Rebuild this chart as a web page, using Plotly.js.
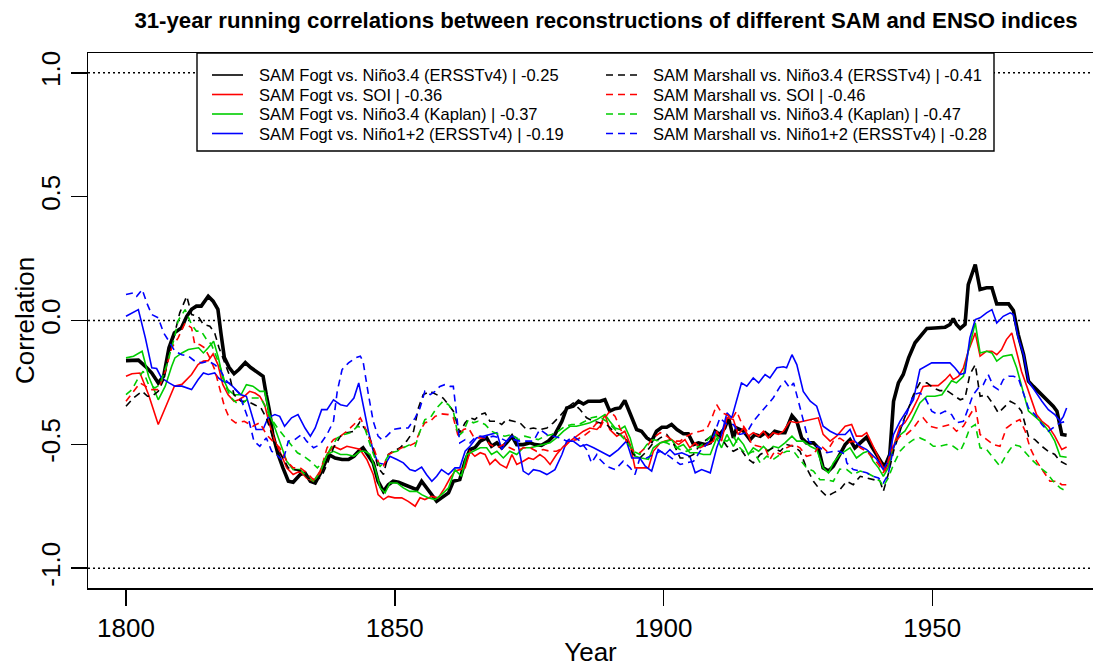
<!DOCTYPE html>
<html>
<head>
<meta charset="utf-8">
<script src="https://cdn.plot.ly/plotly-3.0.1.min.js"></script>
<style>html,body{margin:0;padding:0;background:#fff;}#chart{width:1093px;height:667px;}</style>
</head>
<body>
<div id="chart"></div>
<script>
// ---- Data: [year, 31-year running correlation] ----
const fogtNino34Ersst = [[1800,-0.162],[1802.3,-0.16],[1803.6,-0.185],[1804.8,-0.212],[1806,-0.252],[1807,-0.225],[1808,-0.11],[1809,-0.05],[1810.3,-0.03],[1811.3,0.017],[1812.2,0.045],[1813.1,0.058],[1814,0.058],[1815.3,0.098],[1816.2,0.078],[1817.1,0.045],[1817.7,-0.057],[1818.3,-0.15],[1819.2,-0.19],[1820.1,-0.215],[1821,-0.198],[1822.2,-0.17],[1823.2,-0.19],[1824.5,-0.212],[1825.5,-0.225],[1826.1,-0.3],[1826.7,-0.366],[1827.3,-0.46],[1828.3,-0.541],[1829.2,-0.595],[1830.2,-0.649],[1831.1,-0.653],[1832.4,-0.622],[1833.3,-0.615],[1834.3,-0.649],[1835.2,-0.656],[1836.4,-0.608],[1837.7,-0.541],[1838.9,-0.555],[1840.2,-0.561],[1841.4,-0.561],[1842.4,-0.548],[1843.3,-0.527],
[1844.1,-0.514],[1845.1,-0.548],[1846,-0.575],[1846.9,-0.649],[1847.9,-0.69],[1848.8,-0.663],[1849.7,-0.649],[1850.7,-0.653],[1851.9,-0.663],[1853.1,-0.676],[1854.1,-0.683],[1855,-0.649],[1855.9,-0.676],[1856.9,-0.703],[1857.8,-0.73],[1858.7,-0.716],[1860,-0.696],[1860.9,-0.649],[1862.1,-0.642],[1863.1,-0.568],[1864,-0.521],[1864.9,-0.514],[1865.9,-0.487],[1867.1,-0.474],[1868,-0.508],[1869,-0.494],[1869.9,-0.514],[1870.8,-0.494],[1871.8,-0.467],[1872.7,-0.501],[1873.9,-0.501],[1875.2,-0.494],[1876.1,-0.501],[1877.3,-0.504],[1878.6,-0.487],[1879.8,-0.46],[1881.1,-0.407],[1882,-0.353],[1883.2,-0.346],[1884.2,-0.326],[1885.1,-0.337],[1886,-0.326],[1887.3,-0.326],[1888.2,-0.326],[1889.1,-0.32],
[1890,-0.366],[1891,-0.356],[1891.9,-0.353],[1892.8,-0.323],[1893.8,-0.38],[1895,-0.44],[1895.9,-0.447],[1896.9,-0.474],[1897.8,-0.487],[1898.7,-0.447],[1899.7,-0.431],[1900.6,-0.431],[1901.5,-0.42],[1902.5,-0.44],[1903.7,-0.457],[1904.6,-0.457],[1905.6,-0.501],[1906.5,-0.494],[1907.7,-0.501],[1908.7,-0.494],[1909.6,-0.447],[1910.5,-0.46],[1911.4,-0.434],[1912.1,-0.393],[1913,-0.474],[1913.6,-0.434],[1914.9,-0.447],[1916.1,-0.481],[1917,-0.46],[1918,-0.467],[1918.9,-0.453],[1919.8,-0.467],[1920.7,-0.447],[1921.7,-0.453],[1922.6,-0.453],[1923.9,-0.384],[1924.8,-0.407],[1925.7,-0.474],[1926.6,-0.494],[1927.9,-0.494],[1928.8,-0.514],[1929.7,-0.595],[1930.7,-0.608],[1931.6,-0.588],[1932.8,-0.541],
[1933.8,-0.501],[1934.7,-0.481],[1935.6,-0.514],[1936.6,-0.494],[1937.8,-0.471],[1938.7,-0.508],[1939.7,-0.541],[1940.6,-0.575],[1941.2,-0.588],[1942.1,-0.541],[1942.8,-0.326],[1943.7,-0.252],[1944.6,-0.218],[1945.6,-0.151],[1946.8,-0.09],[1948,-0.057],[1949,-0.032],[1950.5,-0.03],[1952.4,-0.027],[1953.3,-0.016],[1953.9,0.008],[1954.5,-0.016],[1955.2,-0.032],[1956.1,-0.016],[1956.7,0.145],[1958,0.226],[1958.9,0.125],[1960.1,0.132],[1961.1,0.132],[1962,0.067],[1963.2,0.067],[1964.2,0.067],[1965.1,0.04],[1966,-0.057],[1967,-0.138],[1967.9,-0.245],[1968.8,-0.266],[1970.1,-0.293],[1971.3,-0.32],[1972.5,-0.346],[1973.2,-0.366],[1974.1,-0.46],[1975,-0.463]];

const fogtSoi = [[1800,-0.225],[1801.1,-0.215],[1802.6,-0.212],[1804.2,-0.3],[1806,-0.42],[1807.3,-0.353],[1809,-0.265],[1810.4,-0.258],[1812.2,-0.218],[1813.4,-0.178],[1814.4,-0.164],[1815.3,-0.162],[1816.2,-0.135],[1817.1,-0.178],[1818,-0.258],[1819,-0.3],[1820.1,-0.326],[1821,-0.32],[1822,-0.306],[1823,-0.286],[1824,-0.293],[1824.9,-0.306],[1825.8,-0.34],[1826.7,-0.42],[1827.7,-0.487],[1828.6,-0.528],[1829.9,-0.595],[1831.1,-0.622],[1832.4,-0.608],[1833.6,-0.636],[1834.9,-0.649],[1836.1,-0.608],[1837.4,-0.541],[1838.6,-0.508],[1839.9,-0.521],[1841.1,-0.508],[1842.4,-0.514],[1843.5,-0.52],
[1844.8,-0.561],[1846,-0.622],[1846.9,-0.703],[1847.9,-0.723],[1848.8,-0.71],[1850,-0.716],[1851.3,-0.716],[1852.5,-0.73],[1853.8,-0.75],[1854.7,-0.716],[1855.6,-0.723],[1856.9,-0.71],[1858.1,-0.716],[1859.3,-0.676],[1860.3,-0.636],[1861.2,-0.608],[1862.1,-0.602],[1863.1,-0.595],[1864,-0.528],[1864.9,-0.548],[1865.9,-0.534],[1866.8,-0.541],[1867.7,-0.581],[1868.7,-0.561],[1869.6,-0.581],[1870.8,-0.595],[1871.8,-0.541],[1872.7,-0.581],[1873.9,-0.568],[1874.9,-0.555],[1875.8,-0.561],[1877,-0.541],[1877.9,-0.555],[1878.9,-0.581],[1880.1,-0.541],[1881.4,-0.508],[1882.6,-0.487],[1883.8,-0.467],[1885.1,-0.447],[1886.3,-0.434],[1887.6,-0.44],[1888.2,-0.427],
[1889.1,-0.38],[1890,-0.44],[1891.3,-0.467],[1892.8,-0.447],[1893.8,-0.501],[1894.7,-0.595],[1895.9,-0.595],[1897.2,-0.595],[1898.1,-0.528],[1899.4,-0.494],[1900.3,-0.487],[1901.5,-0.481],[1902.8,-0.501],[1904,-0.481],[1904.9,-0.514],[1905.9,-0.494],[1906.8,-0.514],[1908,-0.501],[1909.3,-0.487],[1909.9,-0.447],[1910.8,-0.487],[1911.8,-0.393],[1913,-0.4],[1913.9,-0.46],[1914.9,-0.434],[1915.8,-0.467],[1916.7,-0.453],[1917.7,-0.467],[1918.6,-0.447],[1919.5,-0.474],[1920.4,-0.453],[1921.4,-0.46],[1922.3,-0.447],[1923.5,-0.407],[1924.8,-0.413],[1926,-0.407],[1927.3,-0.4],[1928.8,-0.393],[1929.7,-0.46],[1931,-0.487],[1932.2,-0.467],
[1933.8,-0.427],[1935,-0.42],[1935.9,-0.467],[1936.9,-0.467],[1937.8,-0.453],[1938.7,-0.494],[1939.7,-0.541],[1940.6,-0.581],[1941.2,-0.608],[1942.1,-0.568],[1943.1,-0.487],[1944,-0.427],[1944.9,-0.413],[1946.2,-0.366],[1947.4,-0.313],[1948.3,-0.266],[1949.6,-0.263],[1951.1,-0.263],[1952.4,-0.239],[1953.3,-0.218],[1953.9,-0.239],[1954.9,-0.225],[1955.8,-0.191],[1956.7,-0.124],[1958,-0.05],[1958.9,-0.144],[1960.1,-0.124],[1961.1,-0.124],[1962,-0.138],[1962.9,-0.117],[1963.8,-0.077],[1964.8,-0.05],[1965.7,-0.124],[1966.6,-0.205],[1967.6,-0.266],[1968.5,-0.326],[1969.4,-0.38],[1970.4,-0.407],[1971.6,-0.427],[1972.8,-0.467],[1974.1,-0.521],[1975,-0.511]];

const fogtNino34Kaplan = [[1800,-0.151],[1801.4,-0.144],[1803,-0.124],[1804.2,-0.225],[1806,-0.32],[1807.3,-0.265],[1808.5,-0.185],[1809.1,-0.151],[1810.4,-0.131],[1811.6,-0.117],[1813.5,-0.11],[1814.4,-0.131],[1815.3,-0.11],[1816.3,-0.084],[1817.2,-0.151],[1818,-0.232],[1819,-0.279],[1820.1,-0.3],[1821.4,-0.3],[1822.4,-0.259],[1823.6,-0.265],[1824.9,-0.286],[1825.8,-0.286],[1826.7,-0.38],[1827.7,-0.434],[1828.9,-0.508],[1829.9,-0.568],[1831.1,-0.602],[1832.4,-0.602],[1833.6,-0.629],[1834.9,-0.649],[1836.1,-0.615],[1837.4,-0.541],[1838.6,-0.528],[1839.9,-0.541],[1841.1,-0.541],[1842.4,-0.548],[1843.6,-0.528],
[1844.5,-0.528],[1845.4,-0.541],[1846.3,-0.595],[1847.3,-0.676],[1848.2,-0.696],[1849.1,-0.656],[1850.4,-0.656],[1851.6,-0.676],[1852.8,-0.69],[1854.1,-0.69],[1855,-0.703],[1856.2,-0.716],[1857.5,-0.723],[1858.7,-0.703],[1860,-0.676],[1861.2,-0.602],[1862.4,-0.629],[1863.4,-0.541],[1864.6,-0.528],[1865.9,-0.514],[1867.1,-0.514],[1868,-0.541],[1869,-0.528],[1870.2,-0.555],[1871.4,-0.528],[1872.7,-0.541],[1873.9,-0.514],[1875.2,-0.514],[1876.4,-0.508],[1877.6,-0.501],[1878.9,-0.494],[1880.1,-0.474],[1881.4,-0.447],[1882.6,-0.427],[1883.8,-0.427],[1885.1,-0.42],[1886.3,-0.413],[1887.6,-0.4],
[1889.1,-0.38],[1890,-0.407],[1891,-0.434],[1891.9,-0.44],[1892.8,-0.427],[1893.8,-0.474],[1894.7,-0.548],[1895.9,-0.555],[1897.2,-0.561],[1898.1,-0.514],[1899.4,-0.494],[1900.6,-0.487],[1901.5,-0.481],[1902.5,-0.514],[1903.7,-0.501],[1904.9,-0.534],[1906.2,-0.534],[1907.4,-0.541],[1908.7,-0.541],[1909.9,-0.474],[1910.8,-0.514],[1911.8,-0.46],[1913,-0.508],[1913.9,-0.474],[1914.9,-0.501],[1915.8,-0.541],[1916.7,-0.514],[1917.7,-0.528],[1918.6,-0.508],[1919.5,-0.528],[1920.4,-0.508],[1921.4,-0.514],[1922.6,-0.494],[1923.9,-0.467],[1924.8,-0.487],[1926,-0.487],[1927.3,-0.508],[1928.5,-0.521],[1929.7,-0.595],[1930.7,-0.615],[1931.6,-0.575],[1932.8,-0.541],
[1933.8,-0.528],[1934.7,-0.514],[1935.9,-0.555],[1937.2,-0.534],[1938.1,-0.528],[1939,-0.568],[1940,-0.595],[1940.9,-0.629],[1941.8,-0.595],[1942.8,-0.514],[1943.7,-0.467],[1944.9,-0.447],[1946.2,-0.4],[1947.7,-0.333],[1949,-0.306],[1950.5,-0.306],[1951.8,-0.3],[1952.7,-0.272],[1953.6,-0.243],[1954.5,-0.252],[1955.8,-0.225],[1956.7,-0.124],[1958,-0.01],[1958.9,-0.131],[1960.1,-0.124],[1961.1,-0.131],[1962,-0.164],[1963.2,-0.144],[1964.8,-0.138],[1965.7,-0.191],[1966.6,-0.259],[1967.9,-0.366],[1969.4,-0.393],[1970.7,-0.42],[1971.9,-0.453],[1972.8,-0.487],[1973.8,-0.548],[1975,-0.552]];

const fogtNino12Ersst = [[1800,0.017],[1801.1,0.031],[1802.3,0.044],[1803.6,-0.07],[1804.8,-0.191],[1805.7,-0.194],[1806.6,-0.232],[1808,-0.252],[1809.1,-0.265],[1810.4,-0.265],[1812.2,-0.279],[1813.4,-0.239],[1814.4,-0.212],[1815.3,-0.218],[1816.5,-0.212],[1817.2,-0.232],[1818,-0.245],[1819.2,-0.252],[1820.1,-0.272],[1821.4,-0.3],[1822.4,-0.306],[1823.2,-0.366],[1824.2,-0.44],[1825.5,-0.44],[1826.4,-0.393],[1827.7,-0.38],[1828.6,-0.387],[1829.5,-0.427],[1830.8,-0.393],[1832,-0.38],[1833.3,-0.434],[1834.3,-0.467],[1835.2,-0.434],[1836.4,-0.36],[1837.4,-0.36],[1838.6,-0.32],[1839.9,-0.34],[1841.1,-0.346],[1842.4,-0.313],[1843.3,-0.252],[1844.1,-0.34],
[1845.1,-0.447],[1846,-0.528],[1846.9,-0.575],[1848.2,-0.581],[1849.1,-0.548],[1850.4,-0.561],[1851.6,-0.575],[1852.8,-0.602],[1853.8,-0.608],[1855,-0.592],[1855.9,-0.622],[1856.9,-0.649],[1857.8,-0.629],[1858.7,-0.602],[1860,-0.622],[1861.2,-0.595],[1862.1,-0.595],[1863.1,-0.528],[1864,-0.508],[1865.2,-0.474],[1866.5,-0.467],[1867.7,-0.46],[1869,-0.453],[1869.9,-0.521],[1870.8,-0.487],[1871.8,-0.467],[1872.7,-0.474],[1873.3,-0.541],[1873.9,-0.608],[1874.9,-0.622],[1875.8,-0.602],[1877,-0.608],[1878.3,-0.622],[1879.8,-0.602],[1881.1,-0.541],[1882,-0.487],[1883.2,-0.487],[1884.5,-0.508],[1885.7,-0.501],[1887,-0.514],[1888.2,-0.528],
[1890,-0.548],[1891.6,-0.521],[1893.1,-0.487],[1894.1,-0.555],[1895.6,-0.555],[1896.6,-0.588],[1897.8,-0.608],[1899,-0.521],[1900.3,-0.541],[1901.2,-0.521],[1902.1,-0.541],[1903.4,-0.534],[1904.9,-0.548],[1905.9,-0.615],[1907.1,-0.602],[1908.7,-0.615],[1909.9,-0.514],[1910.8,-0.46],[1911.8,-0.373],[1912.7,-0.393],[1913.6,-0.326],[1914.5,-0.252],[1915.5,-0.265],[1916.7,-0.232],[1917.7,-0.252],[1918.9,-0.218],[1919.8,-0.232],[1921.1,-0.191],[1922.3,-0.187],[1922.9,-0.191],[1923.9,-0.138],[1924.8,-0.178],[1926,-0.286],[1927.3,-0.326],[1928.5,-0.346],[1929.7,-0.427],[1931,-0.447],[1932.2,-0.46],[1933.8,-0.46],
[1934.7,-0.44],[1935.6,-0.487],[1936.6,-0.508],[1937.8,-0.521],[1938.7,-0.541],[1939.7,-0.561],[1940.9,-0.602],[1941.8,-0.568],[1942.8,-0.46],[1944,-0.407],[1945.2,-0.366],[1946.5,-0.32],[1947.7,-0.198],[1948.7,-0.185],[1949.9,-0.171],[1951.1,-0.171],[1952.4,-0.171],[1953.3,-0.171],[1954.2,-0.191],[1955.2,-0.218],[1956.1,-0.212],[1957,-0.07],[1958,0.004],[1958.9,0.011],[1960.1,0.031],[1961.1,0.044],[1962,-0.01],[1963.2,0.017],[1964.5,0.031],[1965.1,0.024],[1966,-0.07],[1967,-0.138],[1967.9,-0.245],[1969.1,-0.286],[1970.4,-0.326],[1971.6,-0.36],[1972.8,-0.38],[1973.8,-0.407],[1974.4,-0.387],[1975,-0.353]];

const marshallNino34Ersst = [[1800,-0.346],[1801.4,-0.313],[1803,-0.286],[1804,-0.306],[1804.8,-0.306],[1806,-0.286],[1807,-0.239],[1808,-0.138],[1809,-0.057],[1810,0.031],[1811.3,0.098],[1812.2,0.024],[1813.4,0.017],[1814.4,-0.016],[1815.6,-0.023],[1816.5,-0.05],[1817.3,-0.11],[1818.3,-0.171],[1819.2,-0.218],[1820.1,-0.3],[1821.4,-0.326],[1822.6,-0.326],[1823.8,-0.34],[1825.1,-0.353],[1826.1,-0.393],[1827.1,-0.46],[1828,-0.514],[1829.2,-0.555],[1830.2,-0.595],[1831.4,-0.602],[1832.7,-0.608],[1833.9,-0.636],[1835.2,-0.649],[1836.4,-0.629],[1837.4,-0.581],[1838.6,-0.514],[1839.9,-0.467],[1841.1,-0.453],[1842.4,-0.447],[1843.5,-0.41],
[1844.8,-0.447],[1846,-0.514],[1846.9,-0.595],[1847.9,-0.622],[1848.8,-0.541],[1849.7,-0.528],[1851,-0.514],[1852.2,-0.487],[1853.5,-0.447],[1854.4,-0.353],[1855.3,-0.299],[1856.6,-0.286],[1857.8,-0.299],[1859,-0.313],[1860,-0.34],[1860.9,-0.366],[1862.1,-0.453],[1863.1,-0.413],[1864,-0.393],[1864.9,-0.4],[1865.9,-0.38],[1866.8,-0.373],[1867.7,-0.407],[1869,-0.407],[1869.9,-0.42],[1870.8,-0.4],[1872.1,-0.407],[1873.3,-0.413],[1874.5,-0.44],[1875.8,-0.434],[1877,-0.44],[1878.3,-0.434],[1879.5,-0.413],[1880.7,-0.387],[1882,-0.353],[1883.2,-0.333],[1884.5,-0.36],[1885.7,-0.393],[1887,-0.407],[1888.2,-0.413],
[1889.4,-0.42],[1890.7,-0.447],[1891.9,-0.46],[1893.1,-0.481],[1894.4,-0.541],[1895.6,-0.555],[1896.9,-0.528],[1898.1,-0.494],[1899.4,-0.474],[1900.6,-0.46],[1901.8,-0.494],[1903.1,-0.555],[1904.3,-0.555],[1905.6,-0.541],[1906.8,-0.501],[1908,-0.481],[1909.3,-0.46],[1910.5,-0.467],[1911.8,-0.508],[1913,-0.528],[1914.2,-0.514],[1915.5,-0.555],[1916.7,-0.575],[1918,-0.541],[1919.2,-0.528],[1920.4,-0.514],[1921.7,-0.528],[1922.9,-0.501],[1924.2,-0.508],[1925.4,-0.528],[1926.6,-0.595],[1927.9,-0.649],[1929.1,-0.683],[1930.4,-0.71],[1931.6,-0.696],[1932.8,-0.683],
[1934.1,-0.649],[1935.3,-0.663],[1936.6,-0.629],[1937.8,-0.636],[1939,-0.643],[1940.3,-0.649],[1940.9,-0.69],[1941.8,-0.622],[1942.8,-0.528],[1943.7,-0.467],[1944.6,-0.407],[1945.6,-0.353],[1946.5,-0.3],[1947.7,-0.252],[1949,-0.252],[1950.2,-0.272],[1951.4,-0.283],[1952.7,-0.283],[1953.9,-0.3],[1955.2,-0.32],[1956.1,-0.313],[1957,-0.218],[1958,-0.178],[1958.9,-0.306],[1960.1,-0.3],[1961.4,-0.34],[1962.3,-0.373],[1963.2,-0.353],[1964.5,-0.326],[1965.7,-0.34],[1966.6,-0.366],[1967.9,-0.467],[1969.1,-0.481],[1970.4,-0.508],[1971.6,-0.528],[1972.8,-0.541],[1973.8,-0.568],[1975,-0.582]];

const marshallSoi = [[1800,-0.326],[1801.4,-0.286],[1802.6,-0.252],[1803.6,-0.265],[1804.8,-0.279],[1806,-0.279],[1807.3,-0.205],[1808.5,-0.11],[1809.7,-0.07],[1811,-0.01],[1812.2,-0.03],[1812.8,-0.097],[1813.7,-0.097],[1814.6,-0.11],[1815.6,-0.151],[1816.5,-0.198],[1817.4,-0.272],[1818.3,-0.346],[1819.2,-0.393],[1820.4,-0.413],[1822,-0.407],[1823.6,-0.427],[1824.9,-0.413],[1826.1,-0.46],[1827.3,-0.487],[1828.6,-0.514],[1829.9,-0.568],[1831.1,-0.595],[1832.4,-0.595],[1833.6,-0.615],[1834.9,-0.643],[1836.1,-0.615],[1837.4,-0.514],[1838.6,-0.481],[1839.9,-0.467],[1841.1,-0.447],[1842.4,-0.42],[1843.6,-0.393],
[1844.5,-0.434],[1845.4,-0.481],[1846.3,-0.528],[1847.3,-0.595],[1847.9,-0.588],[1848.8,-0.541],[1850,-0.528],[1851.3,-0.514],[1852.5,-0.508],[1853.8,-0.494],[1854.7,-0.447],[1855.6,-0.413],[1856.6,-0.407],[1857.5,-0.387],[1858.7,-0.377],[1860,-0.38],[1860.9,-0.393],[1861.8,-0.467],[1862.8,-0.44],[1863.7,-0.434],[1864.6,-0.467],[1865.5,-0.474],[1866.8,-0.474],[1867.7,-0.501],[1869,-0.514],[1870.2,-0.501],[1871.4,-0.514],[1872.7,-0.528],[1873.9,-0.514],[1875.2,-0.514],[1876.4,-0.528],[1877.6,-0.521],[1878.9,-0.528],[1880.1,-0.528],[1881.4,-0.514],[1882.6,-0.487],[1883.8,-0.481],[1885.1,-0.467],[1886.3,-0.447],[1887.6,-0.413],[1888.2,-0.434],
[1889.1,-0.393],[1890,-0.366],[1891,-0.387],[1891.9,-0.434],[1893.1,-0.487],[1894.4,-0.528],[1895.6,-0.534],[1896.9,-0.508],[1898.1,-0.474],[1899.4,-0.453],[1900.6,-0.467],[1901.8,-0.487],[1903.1,-0.487],[1904.3,-0.467],[1905.6,-0.453],[1906.8,-0.447],[1908,-0.44],[1909,-0.393],[1909.9,-0.34],[1910.8,-0.373],[1911.8,-0.38],[1912.7,-0.4],[1913.6,-0.366],[1914.5,-0.413],[1915.5,-0.447],[1916.4,-0.501],[1917.7,-0.508],[1918.9,-0.514],[1919.8,-0.561],[1920.7,-0.528],[1921.7,-0.541],[1922.9,-0.514],[1924.2,-0.501],[1925.4,-0.514],[1926.6,-0.548],[1927.9,-0.541],[1929.1,-0.501],[1930.4,-0.528],[1931.6,-0.487],[1932.8,-0.475],
[1934.1,-0.494],[1935.3,-0.487],[1936.6,-0.514],[1937.8,-0.528],[1939,-0.555],[1940,-0.581],[1940.9,-0.615],[1941.8,-0.568],[1942.8,-0.501],[1944,-0.467],[1945.2,-0.46],[1946.5,-0.434],[1947.4,-0.407],[1948.3,-0.393],[1949.6,-0.427],[1950.8,-0.434],[1952.1,-0.427],[1953.3,-0.42],[1954.5,-0.447],[1955.8,-0.427],[1956.7,-0.393],[1958,-0.346],[1958.9,-0.46],[1960.1,-0.481],[1961.4,-0.501],[1962.6,-0.508],[1963.8,-0.434],[1965.1,-0.413],[1966.3,-0.4],[1967.3,-0.447],[1968.2,-0.514],[1969.4,-0.568],[1970.7,-0.608],[1971.9,-0.649],[1973.2,-0.649],[1974.1,-0.663],[1975,-0.663]];

const marshallNino34Kaplan = [[1800,-0.299],[1801.1,-0.279],[1802.3,-0.232],[1803.2,-0.205],[1804.2,-0.259],[1805.4,-0.272],[1806.3,-0.259],[1807.6,-0.178],[1809,-0.07],[1809.7,0],[1811,0.044],[1812.2,-0.016],[1813.1,-0.043],[1814,-0.043],[1815,-0.077],[1815.9,-0.097],[1816.9,-0.151],[1817.8,-0.205],[1818.7,-0.272],[1819.6,-0.313],[1820.6,-0.333],[1821.8,-0.333],[1822.8,-0.313],[1823.8,-0.313],[1825.1,-0.313],[1826,-0.353],[1826.9,-0.393],[1828.2,-0.434],[1829.4,-0.467],[1830.6,-0.501],[1831.9,-0.534],[1833.1,-0.548],[1834.3,-0.568],[1835.6,-0.595],[1836.8,-0.568],[1838.1,-0.514],[1839.3,-0.474],[1840.6,-0.46],[1841.8,-0.453],[1843.1,-0.427],
[1844.5,-0.44],[1845.4,-0.501],[1846.3,-0.555],[1847.3,-0.588],[1848.2,-0.568],[1849.1,-0.534],[1850.4,-0.528],[1851.6,-0.514],[1852.8,-0.501],[1853.8,-0.508],[1854.7,-0.447],[1855.6,-0.4],[1856.6,-0.393],[1857.8,-0.353],[1859,-0.326],[1860,-0.34],[1860.9,-0.366],[1861.8,-0.467],[1862.8,-0.447],[1863.7,-0.4],[1864.6,-0.413],[1865.5,-0.407],[1866.8,-0.42],[1868,-0.447],[1869.3,-0.46],[1870.5,-0.467],[1871.8,-0.46],[1873,-0.481],[1874.2,-0.467],[1875.5,-0.474],[1876.7,-0.481],[1877.9,-0.467],[1879.2,-0.46],[1880.4,-0.447],[1881.7,-0.427],[1882.9,-0.42],[1884.2,-0.42],[1885.4,-0.407],[1886.6,-0.393],[1887.9,-0.387],
[1889.4,-0.407],[1890.7,-0.434],[1891.9,-0.46],[1893.1,-0.487],[1894.4,-0.528],[1895.6,-0.541],[1896.9,-0.501],[1898.1,-0.481],[1899.4,-0.487],[1900.6,-0.494],[1901.8,-0.508],[1903.1,-0.521],[1904.3,-0.528],[1905.6,-0.514],[1906.8,-0.508],[1908,-0.487],[1909.3,-0.453],[1910.5,-0.481],[1911.8,-0.487],[1913,-0.467],[1914.2,-0.514],[1915.5,-0.541],[1916.7,-0.528],[1918,-0.575],[1919.2,-0.548],[1920.4,-0.561],[1921.7,-0.541],[1922.9,-0.528],[1924.2,-0.528],[1925.4,-0.561],[1926.6,-0.595],[1927.9,-0.608],[1929.1,-0.643],[1930.4,-0.643],[1931.6,-0.649],[1932.8,-0.6],
[1934.1,-0.602],[1935.3,-0.622],[1936.6,-0.608],[1937.8,-0.615],[1939,-0.629],[1940.3,-0.649],[1940.9,-0.67],[1941.8,-0.636],[1942.8,-0.581],[1944,-0.528],[1945.2,-0.501],[1946.5,-0.481],[1947.7,-0.474],[1949,-0.487],[1950.2,-0.508],[1951.4,-0.508],[1952.7,-0.501],[1953.9,-0.508],[1955.2,-0.528],[1956.1,-0.487],[1957,-0.434],[1958,-0.42],[1958.9,-0.514],[1960.1,-0.521],[1961.4,-0.555],[1962.6,-0.588],[1963.8,-0.541],[1965.1,-0.501],[1966.3,-0.508],[1967.6,-0.541],[1968.8,-0.568],[1970.1,-0.595],[1971.3,-0.615],[1972.5,-0.649],[1973.8,-0.676],[1975,-0.69]];

const marshallNino12Ersst = [[1800,0.105],[1801.4,0.112],[1802,0.098],[1803,0.125],[1804,0.064],[1804.8,0.024],[1806,0.011],[1807,-0.05],[1808,-0.084],[1809.1,-0.124],[1810.4,-0.138],[1811.6,-0.144],[1812.8,-0.164],[1814.1,-0.171],[1815.3,-0.164],[1816.5,-0.178],[1817.5,-0.198],[1818.5,-0.239],[1819.7,-0.265],[1821,-0.293],[1822,-0.353],[1822.9,-0.407],[1823.8,-0.487],[1824.9,-0.508],[1826.1,-0.474],[1827.1,-0.528],[1828,-0.541],[1829.2,-0.568],[1830.2,-0.487],[1831.4,-0.481],[1832.7,-0.46],[1833.6,-0.487],[1834.9,-0.514],[1836.1,-0.501],[1837.4,-0.46],[1838.6,-0.407],[1839.3,-0.286],[1840.2,-0.198],[1841.4,-0.171],[1842.7,-0.151],[1843.6,-0.144],[1844.1,-0.164],
[1845.1,-0.299],[1846,-0.407],[1846.9,-0.467],[1847.6,-0.481],[1848.5,-0.467],[1849.7,-0.44],[1851.3,-0.434],[1852.5,-0.434],[1853.8,-0.393],[1854.7,-0.353],[1855.6,-0.286],[1856.6,-0.299],[1857.5,-0.286],[1858.4,-0.266],[1859.3,-0.259],[1860.3,-0.266],[1860.9,-0.266],[1861.5,-0.38],[1862.1,-0.494],[1863.1,-0.481],[1864,-0.494],[1864.9,-0.474],[1865.9,-0.467],[1867.1,-0.474],[1868.3,-0.467],[1869.6,-0.474],[1870.8,-0.487],[1872.1,-0.481],[1873.3,-0.487],[1874.5,-0.487],[1875.8,-0.487],[1877,-0.44],[1878.3,-0.46],[1879.5,-0.467],[1880.7,-0.474],[1882,-0.487],[1883.2,-0.467],[1884.5,-0.487],[1885.7,-0.521],[1886.6,-0.575],[1887.6,-0.541],[1888.2,-0.561],
[1889.4,-0.588],[1891,-0.602],[1892.5,-0.568],[1893.8,-0.595],[1894.7,-0.622],[1895.6,-0.555],[1896.9,-0.555],[1898.1,-0.541],[1899.4,-0.528],[1900.6,-0.541],[1901.8,-0.561],[1903.1,-0.581],[1904.3,-0.575],[1905.6,-0.568],[1906.8,-0.528],[1908,-0.501],[1909.3,-0.467],[1910.5,-0.393],[1911.8,-0.42],[1913,-0.42],[1914.2,-0.46],[1915.5,-0.453],[1916.7,-0.407],[1918,-0.373],[1919.2,-0.346],[1920.4,-0.313],[1921.7,-0.266],[1922.6,-0.245],[1923.5,-0.272],[1924.2,-0.252],[1925.1,-0.326],[1926,-0.407],[1927,-0.487],[1927.9,-0.501],[1929.1,-0.514],[1930.4,-0.534],[1931.6,-0.528],[1932.8,-0.528],[1933.8,-0.541],
[1934.1,-0.575],[1935.3,-0.602],[1936.6,-0.608],[1937.8,-0.615],[1939,-0.629],[1940,-0.636],[1940.9,-0.656],[1941.8,-0.622],[1942.8,-0.514],[1944,-0.447],[1945.2,-0.38],[1946.5,-0.299],[1947.7,-0.292],[1948.7,-0.313],[1949.9,-0.366],[1951.1,-0.38],[1952.4,-0.366],[1953.6,-0.38],[1954.5,-0.413],[1955.8,-0.407],[1956.7,-0.353],[1957.6,-0.3],[1958.6,-0.272],[1959.5,-0.259],[1960.4,-0.218],[1961.4,-0.266],[1962.3,-0.279],[1963.2,-0.239],[1964.2,-0.225],[1965.1,-0.225],[1966,-0.232],[1967,-0.299],[1967.9,-0.353],[1969.1,-0.38],[1970.4,-0.42],[1971.6,-0.447],[1972.5,-0.434],[1973.8,-0.413],[1975,-0.407]];

const seriesNames = [
  "SAM Fogt vs. Niño3.4 (ERSSTv4) | -0.25",
  "SAM Fogt vs. SOI | -0.36",
  "SAM Fogt vs. Niño3.4 (Kaplan) | -0.37",
  "SAM Fogt vs. Niño1+2 (ERSSTv4) | -0.19",
  "SAM Marshall vs. Niño3.4 (ERSSTv4) | -0.41",
  "SAM Marshall vs. SOI | -0.46",
  "SAM Marshall vs. Niño3.4 (Kaplan) | -0.47",
  "SAM Marshall vs. Niño1+2 (ERSSTv4) | -0.28"
];
const seriesData = [fogtNino34Ersst, fogtSoi, fogtNino34Kaplan, fogtNino12Ersst,
                    marshallNino34Ersst, marshallSoi, marshallNino34Kaplan, marshallNino12Ersst];
const seriesColors = ["#000000","#FF0000","#00CD00","#0000FF","#000000","#FF0000","#00CD00","#0000FF"];
const seriesDashed = [false,false,false,false,true,true,true,true];
const refLines = [-1, 0, 1];
const yTickVals = [-1, -0.5, 0, 0.5, 1];
const yTickText = ["-1.0", "-0.5", "0.0", "0.5", "1.0"];
const xTickVals = [1800, 1850, 1900, 1950];

// ---- Layout geometry (pixels) ----
const W = 1093, H = 667;
const M = {l: 88, r: 0, t: 53, b: 79};
const plotW = W - M.l - M.r, plotH = H - M.t - M.b;
const PX_PER_YEAR = 5.375, X1800 = 126;
const xRange = [1800 - (X1800 - M.l) / PX_PER_YEAR, 1800 + (W - M.r - X1800) / PX_PER_YEAR];
const px = v => (v - M.l) / plotW;
const py = v => (M.t + plotH - v) / plotH;

const FONT = "Liberation Sans, Arial, Helvetica, sans-serif";
const DASH = "7px,5px";

const traces = seriesData.map((s, i) => ({
  type: "scatter", mode: "lines",
  x: s.map(p => p[0]), y: s.map(p => p[1]),
  name: seriesNames[i], showlegend: false, hoverinfo: "skip",
  line: {color: seriesColors[i], width: i === 0 ? 3.6 : 1.6, dash: seriesDashed[i] ? DASH : "solid"}
}));

const shapes = refLines.map(v => ({
  type: "line", xref: "paper", x0: 0, x1: 1, yref: "y", y0: v, y1: v, layer: "below",
  line: {color: "#000", width: 1.6, dash: "2px,3px"}
}));

// Legend box (R-style, top centre)
const leg = {x0: 197, x1: 994, y0: 53, y1: 151, rows: [75, 94.5, 114, 133.5],
             cols: [{l0: 212, l1: 243, t: 257}, {l0: 606, l1: 638, t: 651}]};
shapes.push({type: "rect", xref: "paper", yref: "paper", x0: px(leg.x0), x1: px(leg.x1),
  y0: py(leg.y1), y1: py(leg.y0), fillcolor: "#fff", line: {color: "#000", width: 1.4}});
const annotations = [];
seriesNames.forEach((nm, i) => {
  const c = leg.cols[Math.floor(i / 4)], r = leg.rows[i % 4];
  shapes.push({type: "line", xref: "paper", yref: "paper", x0: px(c.l0), x1: px(c.l1), y0: py(r), y1: py(r),
    line: {color: seriesColors[i], width: 1.6, dash: seriesDashed[i] ? DASH : "solid"}});
  annotations.push({xref: "paper", yref: "paper", x: px(c.t), y: py(r), xanchor: "left", yanchor: "middle",
    text: nm, showarrow: false, font: {family: FONT, size: 16.5, color: "#000"}});
});
// y-axis title (R-style placement)
annotations.push({xref: "paper", yref: "paper", x: px(25), y: py(321), xanchor: "center", yanchor: "middle",
  text: "Correlation", textangle: -90, showarrow: false, font: {family: FONT, size: 26, color: "#000"}});

const layout = {
  width: W, height: H, margin: M,
  paper_bgcolor: "#fff", plot_bgcolor: "#fff",
  font: {family: FONT, color: "#000"},
  title: {text: "<b>31-year running correlations between reconstructions of different SAM and ENSO indices</b>",
    font: {family: FONT, size: 22.2, color: "#000"}, xref: "paper", x: px(606), xanchor: "center",
    yref: "container", y: 1 - 20 / H, yanchor: "middle"},
  xaxis: {range: xRange, tickmode: "array", tickvals: xTickVals, ticktext: xTickVals.map(String),
    ticks: "outside", ticklen: 16, tickwidth: 1.5, tickcolor: "#000",
    showline: true, linecolor: "#000", linewidth: 1.5, mirror: true,
    showgrid: false, zeroline: false, tickfont: {family: FONT, size: 26, color: "#000"},
    title: {text: "Year", font: {family: FONT, size: 26, color: "#000"}, standoff: 10}},
  yaxis: {range: [-1.08, 1.08], tickmode: "array", tickvals: yTickVals, ticktext: yTickText,
    tickangle: -90, ticks: "outside", ticklen: 16, tickwidth: 1.5, tickcolor: "#000",
    showline: true, linecolor: "#000", linewidth: 1.5, mirror: false,
    showgrid: false, zeroline: false, tickfont: {family: FONT, size: 26, color: "#000"}},
  shapes: shapes, annotations: annotations, showlegend: false
};

Plotly.newPlot("chart", traces, layout, {displayModeBar: false, staticPlot: true});
</script>
</body>
</html>
